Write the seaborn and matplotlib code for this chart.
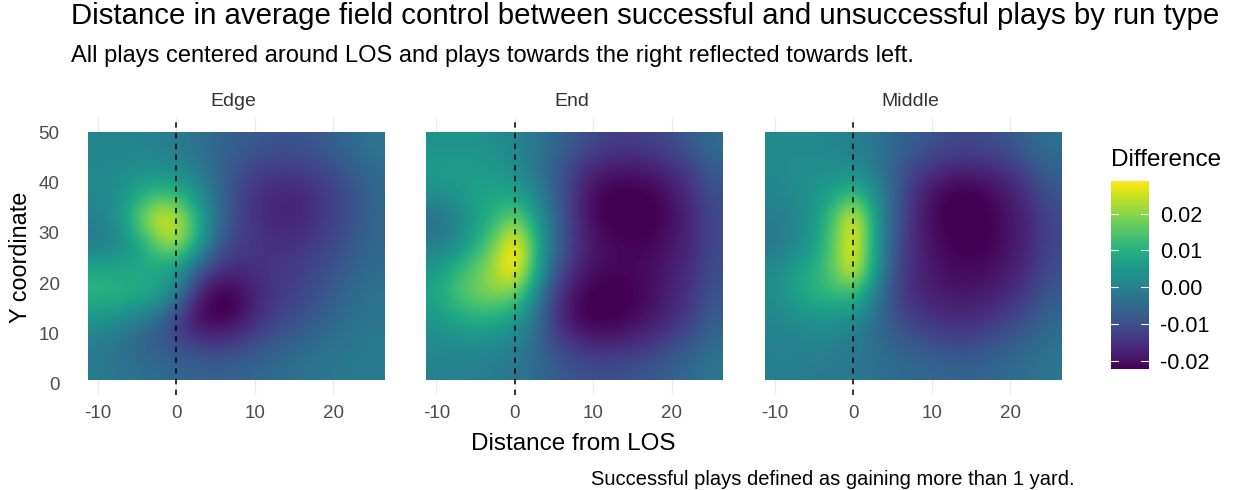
import numpy as np
import pandas as pd
import matplotlib
matplotlib.use("Agg")
import matplotlib.pyplot as plt
import seaborn as sns

# grid of the field control estimates
x_centers = [-10.04, -7.52, -5.0, -2.48, 0.04, 2.56, 5.08, 7.6, 10.12, 12.64, 15.16, 17.68, 20.2, 22.72, 25.24]
y_centers = [3.26, 8.18, 13.1, 18.02, 22.94, 27.86, 32.78, 37.7, 42.62, 47.54]
run_types = ["Edge", "End", "Middle"]

edge_values = [
    [-.001, -.002, -.003, -.004, -.005, -.006, -.006, -.006, -.005, -.004, -.003, -.002, -.002, -.001, -.001],
    [-.001, -.003, -.006, -.008, -.011, -.013, -.014, -.013, -.010, -.008, -.006, -.004, -.003, -.002, -.001],
    [.005, .003, .000, -.004, -.013, -.021, -.023, -.021, -.016, -.012, -.010, -.008, -.005, -.003, -.002],
    [.011, .011, .010, .008, .000, -.016, -.023, -.022, -.017, -.014, -.012, -.010, -.007, -.004, -.003],
    [.009, .008, .008, .008, .005, -.006, -.014, -.016, -.015, -.014, -.013, -.011, -.009, -.006, -.004],
    [-.002, .001, .006, .017, .023, .009, -.006, -.012, -.014, -.015, -.015, -.013, -.011, -.008, -.005],
    [.000, .004, .016, .027, .026, .011, -.003, -.011, -.015, -.017, -.017, -.015, -.012, -.009, -.005],
    [.002, .003, .008, .013, .011, .004, -.004, -.011, -.015, -.017, -.017, -.015, -.012, -.009, -.005],
    [.002, .002, .003, .003, .002, -.001, -.005, -.009, -.012, -.013, -.013, -.012, -.010, -.007, -.004],
    [.001, .001, .001, .000, -.001, -.003, -.005, -.007, -.008, -.009, -.009, -.008, -.006, -.004, -.002],
]
end_values = [
    [.000, .000, .000, -.001, -.002, -.004, -.007, -.009, -.010, -.010, -.009, -.008, -.006, -.004, -.002],
    [.002, .003, .003, .002, .000, -.004, -.011, -.015, -.017, -.017, -.016, -.014, -.011, -.008, -.004],
    [.005, .008, .010, .009, .006, -.002, -.014, -.021, -.023, -.023, -.021, -.019, -.016, -.012, -.007],
    [.008, .014, .018, .020, .018, .003, -.013, -.020, -.023, -.023, -.022, -.020, -.017, -.014, -.009],
    [.005, .011, .016, .023, .032, .011, -.007, -.016, -.020, -.021, -.021, -.020, -.018, -.015, -.010],
    [-.001, .002, .009, .018, .032, .012, -.004, -.014, -.019, -.021, -.022, -.021, -.019, -.016, -.011],
    [-.004, .000, .006, .011, .019, .007, -.005, -.015, -.021, -.023, -.023, -.023, -.020, -.016, -.011],
    [.003, .005, .007, .008, .007, .002, -.006, -.015, -.021, -.023, -.023, -.022, -.019, -.015, -.010],
    [.006, .006, .006, .005, .003, -.002, -.007, -.013, -.017, -.019, -.019, -.018, -.016, -.012, -.007],
    [.004, .004, .004, .003, .001, -.002, -.005, -.008, -.011, -.013, -.013, -.012, -.010, -.007, -.004],
]
middle_values = [
    [.000, .000, -.001, -.001, -.002, -.003, -.004, -.005, -.005, -.006, -.006, -.005, -.004, -.003, -.002],
    [.000, .000, .001, .000, -.001, -.004, -.006, -.008, -.010, -.011, -.011, -.009, -.007, -.005, -.003],
    [.001, .003, .004, .004, .002, -.003, -.009, -.013, -.015, -.016, -.016, -.014, -.012, -.009, -.005],
    [.003, .007, .011, .012, .013, .001, -.011, -.016, -.018, -.019, -.019, -.018, -.016, -.012, -.008],
    [.002, .006, .010, .017, .029, .007, -.009, -.016, -.019, -.021, -.021, -.020, -.018, -.015, -.010],
    [-.002, .001, .006, .016, .030, .008, -.008, -.016, -.020, -.022, -.023, -.022, -.019, -.016, -.011],
    [-.001, .001, .005, .015, .030, .008, -.007, -.016, -.021, -.023, -.023, -.022, -.019, -.016, -.011],
    [.001, .002, .004, .008, .013, .004, -.006, -.015, -.020, -.023, -.023, -.021, -.018, -.014, -.009],
    [.002, .003, .003, .003, .002, -.001, -.006, -.012, -.015, -.017, -.017, -.016, -.014, -.010, -.006],
    [.002, .002, .002, .001, .000, -.002, -.005, -.007, -.009, -.011, -.011, -.010, -.008, -.005, -.003],
]

x_ticks = [-10, 0, 10, 20]
y_ticks = [0, 10, 20, 30, 40, 50]
legend_ticks = [-0.02, -0.01, 0.00, 0.01, 0.02]
vmin, vmax = -0.0221, 0.0289

W, H = 1233, 490
GREY = "#4d4d4d"

sns.set_theme(style="white")
plt.rcParams["font.family"] = ["Liberation Sans", "DejaVu Sans"]
plt.rcParams["axes.unicode_minus"] = False


def long_table():
    rows = []
    for name, grid in zip(run_types, [edge_values, end_values, middle_values]):
        for j, yv in enumerate(y_centers):
            for i, xv in enumerate(x_centers):
                rows.append({"run": name, "x": xv, "y": yv, "diff": grid[j][i]})
    return pd.DataFrame(rows)


def draw_field(data, **kwargs):
    ax = plt.gca()
    table = data.pivot(index="y", columns="x", values="diff")
    dx = table.columns[1] - table.columns[0]
    dy = table.index[1] - table.index[0]
    extent = [table.columns[0] - dx / 2, table.columns[-1] + dx / 2,
              table.index[0] - dy / 2, table.index[-1] + dy / 2]
    ax.imshow(table.values, origin="lower", extent=extent, aspect="auto",
              cmap="viridis", vmin=vmin, vmax=vmax, interpolation="bicubic",
              zorder=2)
    for t in x_ticks:
        ax.axvline(t, color="#ebebeb", lw=1.0, zorder=1)
    ax.axvline(0, color="black", lw=1.1, ls=(0, (3.5, 3.5)), zorder=3)


df = long_table()
g = sns.FacetGrid(df, col="run", col_order=run_types, sharex=True, sharey=True)
g.map_dataframe(draw_field)
fig = g.figure
fig.set_size_inches(W / 100, H / 100)
fig.set_dpi(100)

# panels placed in pixels
lefts = [72, 410.5, 749]
for ax, left, name in zip(g.axes.flat, lefts, run_types):
    ax.set_position([left / W, 1 - 395 / H, 328 / W, 278 / H])
    ax.set_xlim(-13.3, 28.5)
    ax.set_ylim(-2.2, 53)
    ax.set_xticks(x_ticks)
    ax.set_yticks(y_ticks)
    ax.tick_params(axis="both", length=0, labelsize=13.5, labelcolor=GREY)
    ax.tick_params(axis="x", pad=7)
    ax.tick_params(axis="y", pad=9)
    ax.set_xlabel("")
    ax.set_ylabel("")
    ax.set_title("")
    sns.despine(ax=ax, left=True, bottom=True)
    ax.text(0.5 - 2.5 / 328, 1.0 + 7 / 278, name, transform=ax.transAxes, ha="center",
            va="bottom", fontsize=14, color="#333333")
for ax in g.axes.flat[1:]:
    ax.tick_params(axis="y", labelleft=False)


def px_text(x, y, s, **kwargs):
    fig.text(x / W, 1 - y / H, s, **kwargs)


px_text(71, 16, "Distance in average field control between successful and unsuccessful plays by run type",
        fontsize=21.2, color="black", va="center", ha="left")
px_text(71, 56, "All plays centered around LOS and plays towards the right reflected towards left.",
        fontsize=17.05, color="black", va="center", ha="left")
px_text(573, 444, "Distance from LOS", fontsize=17.5, color="black", va="center", ha="center")
px_text(21, 257, "Y coordinate", fontsize=16.8, color="black", va="center", ha="center", rotation=90)
px_text(591, 479, "Successful plays defined as gaining more than 1 yard.",
        fontsize=14.5, color="black", va="center", ha="left")
px_text(1111, 160, "Difference", fontsize=17.5, color="black", va="center", ha="left")

# colour legend
cax = fig.add_axes([1110.7 / W, 1 - 369 / H, 38 / W, 188.3 / H])
sm = plt.cm.ScalarMappable(norm=plt.Normalize(vmin, vmax), cmap="viridis")
bar = fig.colorbar(sm, cax=cax)
bar.outline.set_visible(False)
bar.set_ticks(legend_ticks)
bar.set_ticklabels([f"{v:.2f}" for v in legend_ticks])
cax.tick_params(axis="y", length=0, labelsize=15.5, labelcolor="black", pad=8)
for v in legend_ticks:
    cax.plot([0, 0.2], [v, v], color="white", lw=0.8, transform=cax.get_yaxis_transform())
    cax.plot([0.8, 1], [v, v], color="white", lw=0.8, transform=cax.get_yaxis_transform())

fig.savefig("out.png", dpi=100)
